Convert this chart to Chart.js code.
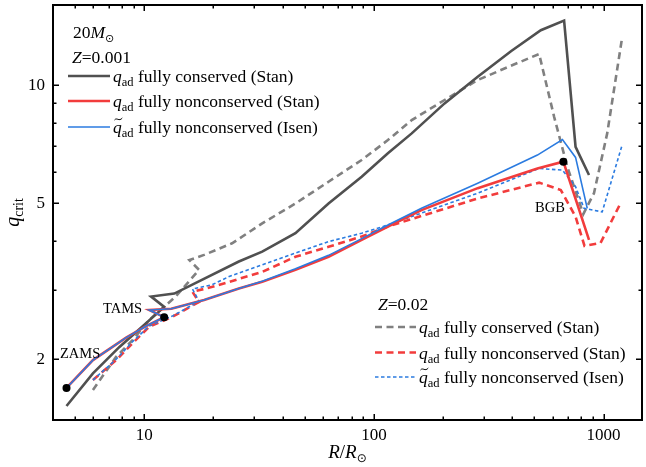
<!DOCTYPE html>
<html>
<head>
<meta charset="utf-8">
<script src="https://cdn.jsdelivr.net/npm/chart.js@4.4.1/dist/chart.umd.min.js"></script>
<style>
  html, body { margin: 0; padding: 0; background: #fff; }
  canvas { display: block; }
</style>
</head>
<body>
<canvas id="chart" width="646" height="467"></canvas>
<script>
// Z = 0.001, q_ad fully conserved (Stan)
const rConsLowZ = [4.58, 5.97, 7.79, 10.17, 12.2, 10.7, 13.5, 25.8, 32.6, 45.5, 63.4, 88.4, 115, 146, 203, 283, 395, 533, 673, 755, 864];
const qConsLowZ = [1.52, 1.84, 2.15, 2.47, 2.72, 2.89, 2.94, 3.55, 3.76, 4.19, 4.99, 5.84, 6.70, 7.53, 8.98, 10.5, 12.2, 13.8, 14.6, 6.96, 5.90];

// Z = 0.001, q_ad fully nonconserved (Stan)
const rNonLowZ = [4.58, 5.97, 8.33, 10.17, 12.2, 10.5, 13.1, 18.2, 25.8, 32.6, 45.5, 63.4, 88.4, 115, 161, 283, 515, 668, 864];
const qNonLowZ = [1.69, 1.99, 2.27, 2.43, 2.56, 2.67, 2.69, 2.83, 3.03, 3.15, 3.38, 3.65, 4.03, 4.36, 4.80, 5.46, 6.13, 6.38, 4.03];

// Z = 0.001, q~_ad fully nonconserved (Isen)
const rIsenLowZ = [4.58, 5.97, 8.33, 10.17, 12.2, 10.5, 13.1, 18.2, 25.8, 32.6, 45.5, 63.4, 88.4, 115, 161, 283, 515, 662, 755, 849];
const qIsenLowZ = [1.69, 1.99, 2.27, 2.43, 2.56, 2.67, 2.69, 2.83, 3.03, 3.16, 3.40, 3.68, 4.06, 4.40, 4.85, 5.62, 6.63, 7.26, 6.54, 4.85];

// Z = 0.02, q_ad fully conserved (Stan)
const rConsHighZ = [5.97, 7.54, 8.90, 10.5, 13.7, 17.3, 15.7, 18.2, 24.1, 32.6, 45.5, 63.4, 88.4, 115, 146, 203, 283, 395, 524, 609, 695, 816, 908, 1037, 1204];
const qConsHighZ = [1.67, 2.03, 2.24, 2.52, 2.89, 3.38, 3.58, 3.69, 3.95, 4.44, 4.99, 5.67, 6.44, 7.24, 8.14, 9.16, 10.3, 11.2, 12.0, 8.30, 6.19, 4.69, 5.30, 7.53, 13.2];

// Z = 0.02, q_ad fully nonconserved (Stan)
const rNonHighZ = [5.97, 7.54, 8.90, 10.5, 13.3, 17.3, 16.2, 19.8, 23.4, 32.6, 45.5, 63.4, 88.4, 115, 283, 524, 651, 755, 826, 970, 1184];
const qNonHighZ = [1.77, 1.99, 2.20, 2.42, 2.57, 2.80, 2.97, 3.06, 3.15, 3.34, 3.65, 3.87, 4.11, 4.36, 5.14, 5.64, 5.40, 4.62, 3.89, 3.96, 4.99];

// Z = 0.02, q~_ad fully nonconserved (Isen)
const rIsenHighZ = [5.97, 7.54, 8.90, 10.5, 13.3, 17.3, 16.2, 19.8, 23.4, 32.6, 45.5, 63.4, 88.4, 115, 283, 524, 662, 755, 822, 986, 1204];
const qIsenHighZ = [1.77, 2.00, 2.22, 2.43, 2.58, 2.81, 3.02, 3.10, 3.25, 3.48, 3.73, 3.99, 4.19, 4.40, 5.30, 6.13, 6.07, 5.51, 4.85, 4.75, 7.03];

// evolutionary stage markers
const stageNames = ['ZAMS', 'TAMS', 'BGB'];
const stageR = [4.58, 12.2, 668];
const stageQ = [1.69, 2.56, 6.38];

// axis ticks
const xLabelTicks = [10, 100, 1000];
const xMinorTicks = [5, 6, 7, 8, 9, 20, 30, 40, 50, 60, 70, 80, 90, 200, 300, 400, 500, 600, 700, 800, 900];
const yLabelTicks = [2, 5, 10];
const yMinorTicks = [3, 4, 6, 7, 8, 9];

const FONT = '"Liberation Serif", "Times New Roman", "DejaVu Serif", serif';
const SYMFONT = '"Liberation Serif", "DejaVu Sans", serif';

function zip(xs, ys) {
    return xs.map((x, i) => ({ x: x, y: ys[i] }));
}

function lineSet(label, xs, ys, color, width, dash) {
    return {
        label: label,
        data: zip(xs, ys),
        showLine: true,
        borderColor: color,
        backgroundColor: color,
        borderWidth: width,
        borderDash: dash,
        pointRadius: 0,
        tension: 0
    };
}

const GRAY_DARK = '#505050';
const GRAY = '#808080';
const RED = '#f23c3c';
const BLUE = '#2b7be0';

// first dataset is painted last in Chart.js, so the top-most goes first
const datasets = [
    {
        label: 'stages',
        data: zip(stageR, stageQ),
        showLine: false,
        pointRadius: 4,
        pointBackgroundColor: '#000',
        pointBorderColor: '#000',
        pointBorderWidth: 0
    },
    lineSet('isenLow', rIsenLowZ, qIsenLowZ, BLUE, 1.6, []),
    lineSet('nonLow', rNonLowZ, qNonLowZ, RED, 2.6, []),
    lineSet('consLow', rConsLowZ, qConsLowZ, GRAY_DARK, 2.6, []),
    lineSet('isenHigh', rIsenHighZ, qIsenHighZ, BLUE, 1.6, [3.5, 2.5]),
    lineSet('nonHigh', rNonHighZ, qNonHighZ, RED, 2.6, [7, 4.5]),
    lineSet('consHigh', rConsHighZ, qConsHighZ, GRAY, 2.6, [7, 4.5])
];

function drawRich(ctx, x, y, parts) {
    for (const p of parts) {
        ctx.font = (p.it ? 'italic ' : '') + p.size + 'px ' + (p.sym ? SYMFONT : FONT);
        ctx.fillText(p.t, x, y + (p.dy || 0));
        x += ctx.measureText(p.t).width;
    }
    return x;
}

function richWidth(ctx, parts) {
    let w = 0;
    for (const p of parts) {
        ctx.font = (p.it ? 'italic ' : '') + p.size + 'px ' + (p.sym ? SYMFONT : FONT);
        w += ctx.measureText(p.t).width;
    }
    return w;
}

function drawTilde(ctx, x, y, w) {
    ctx.save();
    ctx.lineWidth = 1;
    ctx.strokeStyle = '#000';
    ctx.beginPath();
    ctx.moveTo(x, y + 1);
    ctx.bezierCurveTo(x + w * 0.3, y - 2, x + w * 0.6, y + 3, x + w, y - 1);
    ctx.stroke();
    ctx.restore();
}

function legendEntry(ctx, ds, x0, x1, yLine, tilde, text) {
    ctx.save();
    ctx.strokeStyle = ds.borderColor;
    ctx.lineWidth = ds.borderWidth;
    ctx.setLineDash(ds.borderDash || []);
    ctx.beginPath();
    ctx.moveTo(x0, yLine);
    ctx.lineTo(x1, yLine);
    ctx.stroke();
    ctx.restore();

    const base = yLine + 6;
    let tx = x1 + 3;
    ctx.font = 'italic 17.5px ' + FONT;
    const qw = ctx.measureText('q').width;
    if (tilde) drawTilde(ctx, tx + 1.5, base - 14, qw - 1);
    drawRich(ctx, tx, base, [
        { t: 'q', it: true, size: 17.5 },
        { t: 'ad', size: 12.5, dy: 4 },
        { t: ' ' + text, size: 17.5 }
    ]);
}

const decorate = {
    id: 'decorate',
    afterDraw(chart) {
        const ctx = chart.ctx;
        const a = chart.chartArea;
        const xs = chart.scales.x;
        const ys = chart.scales.y;
        const sets = chart.data.datasets;
        ctx.save();
        ctx.fillStyle = '#000';
        ctx.textAlign = 'left';
        ctx.textBaseline = 'alphabetic';

        // inward ticks on all four sides
        ctx.strokeStyle = '#000';
        ctx.lineWidth = 1.5;
        ctx.beginPath();
        const xt = xLabelTicks.map(v => [v, 6]).concat(xMinorTicks.map(v => [v, 3.5]));
        for (const [v, len] of xt) {
            const px = Math.round(xs.getPixelForValue(v)) + 0.25;
            ctx.moveTo(px, a.bottom); ctx.lineTo(px, a.bottom - len);
            ctx.moveTo(px, a.top); ctx.lineTo(px, a.top + len);
        }
        const yt = yLabelTicks.map(v => [v, 6]).concat(yMinorTicks.map(v => [v, 3.5]));
        for (const [v, len] of yt) {
            const py = Math.round(ys.getPixelForValue(v)) + 0.25;
            ctx.moveTo(a.left, py); ctx.lineTo(a.left + len, py);
            ctx.moveTo(a.right, py); ctx.lineTo(a.right - len, py);
        }
        ctx.stroke();

        // frame
        ctx.lineWidth = 2;
        ctx.strokeRect(a.left, a.top, a.right - a.left, a.bottom - a.top);

        // stage labels
        ctx.font = '14.5px ' + FONT;
        ctx.fillText(stageNames[0], 60, 358);
        ctx.fillText(stageNames[1], 103, 313);
        ctx.fillText(stageNames[2], 535, 211.5);

        // upper legend (Z = 0.001)
        drawRich(ctx, 73, 38, [
            { t: '20', size: 17.5 },
            { t: 'M', it: true, size: 17.5 },
            { t: '\u2299', size: 11, dy: 4, sym: true }
        ]);
        drawRich(ctx, 72, 63, [
            { t: 'Z', it: true, size: 17.5 },
            { t: '=0.001', size: 17.5 }
        ]);
        legendEntry(ctx, sets[3], 68, 110, 76, false, 'fully conserved (Stan)');
        legendEntry(ctx, sets[2], 68, 110, 101, false, 'fully nonconserved (Stan)');
        legendEntry(ctx, sets[1], 68, 110, 127, true, 'fully nonconserved (Isen)');

        // lower legend (Z = 0.02)
        drawRich(ctx, 378, 310, [
            { t: 'Z', it: true, size: 17.5 },
            { t: '=0.02', size: 17.5 }
        ]);
        legendEntry(ctx, sets[6], 375, 416, 327, false, 'fully conserved (Stan)');
        legendEntry(ctx, sets[5], 375, 416, 352.5, false, 'fully nonconserved (Stan)');
        legendEntry(ctx, sets[4], 375, 416, 377, true, 'fully nonconserved (Isen)');

        // x title
        const xTitle = [
            { t: 'R', it: true, size: 19 },
            { t: '/', size: 19 },
            { t: 'R', it: true, size: 19 },
            { t: '\u2299', size: 12, dy: 4, sym: true }
        ];
        const xw = richWidth(ctx, xTitle);
        drawRich(ctx, (a.left + a.right) / 2 - xw / 2, 458, xTitle);

        // y title
        const yTitle = [
            { t: 'q', it: true, size: 20 },
            { t: 'crit', size: 14, dy: 4 }
        ];
        const yw = richWidth(ctx, yTitle);
        ctx.translate(19, (a.top + a.bottom) / 2);
        ctx.rotate(-Math.PI / 2);
        drawRich(ctx, -yw / 2, 0, yTitle);

        ctx.restore();
    }
};

new Chart(document.getElementById('chart'), {
    type: 'scatter',
    data: { datasets: datasets },
    options: {
        responsive: false,
        animation: false,
        devicePixelRatio: 1,
        layout: { padding: { top: 5, right: 1, left: 0, bottom: 0 } },
        plugins: {
            legend: { display: false },
            tooltip: { enabled: false }
        },
        scales: {
            x: {
                type: 'logarithmic',
                min: 4,
                max: 1470,
                grid: { display: false, drawTicks: false },
                border: { display: false },
                afterBuildTicks: (s) => { s.ticks = xLabelTicks.map(v => ({ value: v })); },
                afterFit: (s) => {
                    s.height = 47;
                    s.paddingLeft = 0;
                    s.paddingRight = 0;
                },
                ticks: {
                    autoSkip: false,
                    maxRotation: 0,
                    padding: 5,
                    color: '#000',
                    font: { family: FONT, size: 17 },
                    callback: (v) => String(v)
                }
            },
            y: {
                type: 'logarithmic',
                min: 1.4,
                max: 16,
                grid: { display: false, drawTicks: false },
                border: { display: false },
                afterBuildTicks: (s) => { s.ticks = yLabelTicks.map(v => ({ value: v })); },
                afterFit: (s) => {
                    s.width = 53;
                    s.paddingTop = 0;
                    s.paddingBottom = 0;
                },
                ticks: {
                    autoSkip: false,
                    padding: 8,
                    color: '#000',
                    font: { family: FONT, size: 17 },
                    callback: (v) => String(v)
                }
            }
        }
    },
    plugins: [decorate]
});
</script>
</body>
</html>
